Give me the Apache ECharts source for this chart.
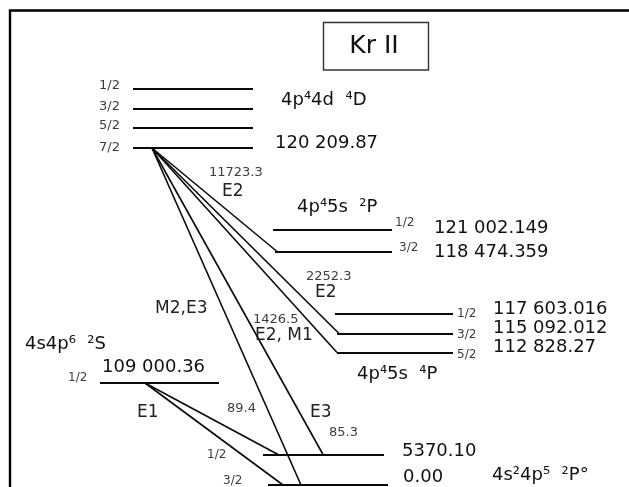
<!DOCTYPE html>
<html><head><meta charset="utf-8">
<script src="https://cdn.jsdelivr.net/npm/echarts@6.0.0/dist/echarts.min.js"></script>
<style>html,body{margin:0;padding:0;background:#fff}#c{width:629px;height:487px}</style>
</head><body><div id="c"></div>
<script>
// ---------- data ----------
const title = 'Kr II';
const configs = ['4p⁴4d  ⁴D', '4p⁴5s  ²P', '4p⁴5s  ⁴P', '4s4p⁶  ²S', '4s²4p⁵  ²P°'];
const j4D = ['1/2', '3/2', '5/2', '7/2'];
const j2P = ['1/2', '3/2'];
const j4P = ['1/2', '3/2', '5/2'];
const j2S = ['1/2'];
const j2Po = ['1/2', '3/2'];
const energy4D = '120 209.87';
const energies2P = ['121 002.149', '118 474.359'];
const energies4P = ['117 603.016', '115 092.012', '112 828.27'];
const energy2S = '109 000.36';
const energies2Po = ['5370.10', '0.00'];
const wavelengths = ['11723.3', '2252.3', '1426.5', '89.4', '85.3'];
const multipoles = ['E2', 'E2', 'E2, M1', 'M2,E3', 'E3', 'E1'];

// ---------- layout (schematic diagram coordinates) ----------
const lvl = {
  d4:  {x1: [133,133,133,133], x2: [253,253,253,253], y: [89, 109, 128, 148]},
  p2:  {x1: [273,275], x2: [392,392], y: [229.5, 251.5]},
  p4:  {x1: [335,337,337], x2: [453,453,453], y: [313.5, 333.5, 352.5]},
  s2:  {x1: [100], x2: [219], y: [383]},
  po2: {x1: [263,268], x2: [384,388], y: [454.5, 485]}
};
const fromD = [152, 148];
const fromS = [145, 383];
const transEnds = {
  d: [[277, 251.5], [339, 333.5], [337, 352.5], [323, 454.5], [301, 485]],
  s: [[278, 454.5], [283, 485]]
};

const BIG = 18, MID = 17, SMALL = 13, J = 12;
const dark = '#111', mid = '#222', grey = '#3c3c3c';
const texts = [];
function T(text, x, y, size, color, align) { texts.push({text, x, y, size, color, align: align || 'left'}); }

T(title, 374, 46, 25, dark, 'center');
j4D.forEach((j, i) => T(j, 120, [86, 107, 126, 148][i], 13, grey, 'right'));
T(configs[0], 281, 100, BIG, dark);
T(energy4D, 275, 143, BIG, dark);
T(wavelengths[0], 209, 173, SMALL, grey);
T(multipoles[0], 222, 192, MID, mid);
T(configs[1], 297, 207, BIG, dark);
j2P.forEach((j, i) => T(j, [395, 399][i], [223, 248][i], J, grey));
energies2P.forEach((e, i) => T(e, 434, [228, 252][i], BIG, dark));
T(wavelengths[1], 306, 277, SMALL, grey);
T(multipoles[1], 315, 293, MID, mid);
T(multipoles[3], 155, 309, MID, mid);
T(wavelengths[2], 253, 320, SMALL, grey);
T(multipoles[2], 255, 336, MID, mid);
j4P.forEach((j, i) => T(j, 457, [314, 335, 355][i], J, grey));
energies4P.forEach((e, i) => T(e, 493, [309, 328, 347][i], BIG, dark));
T(configs[2], 357, 374, BIG, dark);
T(configs[3], 25, 344, BIG, dark);
T(energy2S, 102, 367, BIG, dark);
j2S.forEach(j => T(j, 68, 378, J, grey));
T(multipoles[5], 137, 413, MID, mid);
T(wavelengths[3], 227, 409, SMALL, grey);
T(multipoles[4], 310, 413, MID, mid);
T(wavelengths[4], 329, 433, SMALL, grey);
j2Po.forEach((j, i) => T(j, [207, 223][i], [455, 481][i], J, grey));
energies2Po.forEach((e, i) => T(e, [402, 403][i], [451, 477][i], BIG, dark));
T(configs[4], 492, 475, BIG, dark);

// ---------- build marks ----------
const levelSegs = [];
Object.values(lvl).forEach(g => g.y.forEach((y, i) => levelSegs.push({coords: [[g.x1[i], y], [g.x2[i], y]]})));
const transSegs = [];
transEnds.d.forEach(e => transSegs.push({coords: [fromD, e]}));
transEnds.s.forEach(e => transSegs.push({coords: [fromS, e]}));

const chart = echarts.init(document.getElementById('c'), null, {renderer: 'canvas'});
chart.setOption({
  animation: false,
  backgroundColor: '#fff',
  grid: {left: 0, right: 0, top: 0, bottom: 0},
  xAxis: {type: 'value', min: 0, max: 629, show: false},
  yAxis: {type: 'value', min: 0, max: 487, inverse: true, show: false},
  graphic: [
    {type: 'polyline', shape: {points: [[10, 487], [10, 10.5], [629, 10.5]]}, style: {stroke: '#000', lineWidth: 2.4, fill: null}, z: 10},
    {type: 'rect', shape: {x: 323.5, y: 22.5, width: 105, height: 47.5}, style: {stroke: '#333', lineWidth: 1.4, fill: null}, z: 10}
  ],
  series: [
    {type: 'lines', coordinateSystem: 'cartesian2d', silent: true, z: 3,
     lineStyle: {color: '#0a0a0a', width: 2, opacity: 1, curveness: 0}, data: levelSegs},
    {type: 'lines', coordinateSystem: 'cartesian2d', silent: true, z: 3,
     lineStyle: {color: '#0a0a0a', width: 1.6, opacity: 1, curveness: 0}, data: transSegs},
    {type: 'custom', coordinateSystem: 'cartesian2d', silent: true, clip: false, z: 5,
     encode: {x: 0, y: 1},
     data: texts.map(t => [t.x, t.y]),
     renderItem: (params, api) => {
       const t = texts[params.dataIndex];
       const p = api.coord([t.x, t.y]);
       return {type: 'text', x: p[0], y: p[1],
         style: {text: t.text, fill: t.color, font: t.size + 'px "DejaVu Sans"',
                 align: t.align, verticalAlign: 'middle', textAlign: t.align, textVerticalAlign: 'middle'}};
     }}
  ]
});
</script>
</body></html>
